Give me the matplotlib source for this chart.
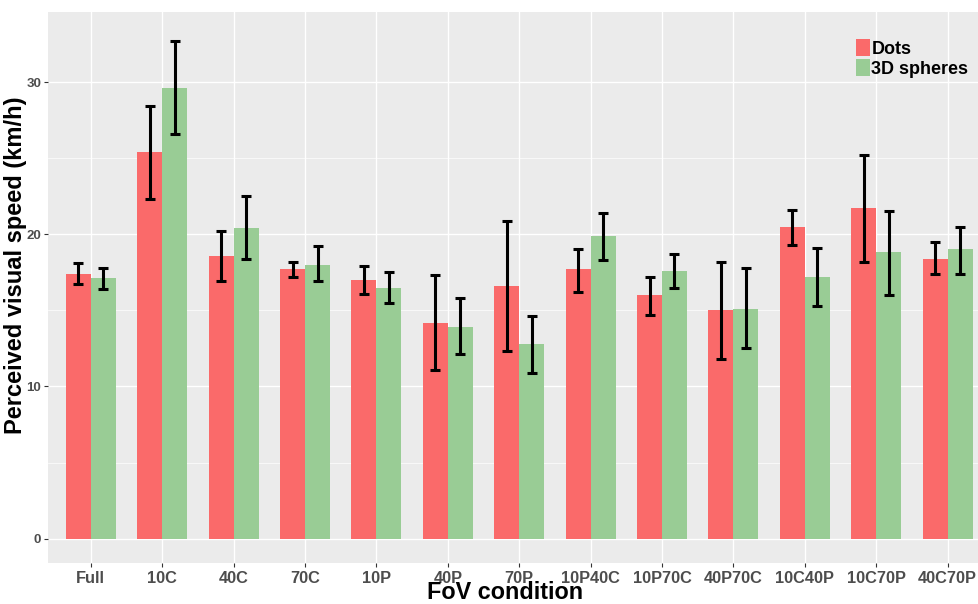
import numpy as np
import matplotlib
matplotlib.use("Agg")
import matplotlib.pyplot as plt
from matplotlib.patches import Patch

# --- DATA ---
conditions = ["Full", "10C", "40C", "70C", "10P", "40P", "70P",
              "10P40C", "10P70C", "40P70C", "10C40P", "10C70P", "40C70P"]

dots_mean = [17.4, 25.4, 18.6, 17.7, 17.0, 14.2, 16.6, 17.7, 16.0, 15.0, 20.5, 21.7, 18.4]
dots_low  = [16.7, 22.3, 16.9, 17.2, 16.1, 11.1, 12.3, 16.2, 14.7, 11.8, 19.3, 18.2, 17.4]
dots_high = [18.1, 28.4, 20.2, 18.2, 17.9, 17.3, 20.9, 19.0, 17.2, 18.2, 21.6, 25.2, 19.5]

sph_mean = [17.1, 29.6, 20.4, 18.0, 16.5, 13.9, 12.8, 19.9, 17.6, 15.1, 17.2, 18.8, 19.0]
sph_low  = [16.4, 26.6, 18.4, 16.9, 15.5, 12.1, 10.9, 18.3, 16.5, 12.5, 15.3, 16.0, 17.4]
sph_high = [17.8, 32.7, 22.5, 19.2, 17.5, 15.8, 14.6, 21.4, 18.7, 17.8, 19.1, 21.5, 20.5]

series_names = ["Dots", "3D spheres"]
yticks = [0, 10, 20, 30]

# --- STYLE ---
red = "#FA6A6A"
green = "#99CC95"
panel_bg = "#EBEBEB"
font = "Liberation Sans"

fig = plt.figure(figsize=(9.79, 6.04), dpi=100)
ax = fig.add_axes([48/979, 41/604, 1 - 48/979, (563 - 12)/604])
ax.set_facecolor(panel_bg)

x = np.arange(len(conditions))
w = 0.35

# grid like ggplot
for yv in [5, 15, 25]:
    ax.axhline(yv, color="white", lw=0.5, zorder=0)
for yv in yticks:
    ax.axhline(yv, color="white", lw=1.0, zorder=0)
for xv in x:
    ax.axvline(xv, color="white", lw=1.0, zorder=0)

d = np.array(dots_mean)
s = np.array(sph_mean)
ax.bar(x - w/2, d, width=w, color=red, zorder=2)
ax.bar(x + w/2, s, width=w, color=green, zorder=2)

err_kw = dict(fmt="none", ecolor="black", elinewidth=2.2, capsize=3.5, capthick=2.2, zorder=3)
ax.errorbar(x - w/2, d, yerr=[d - np.array(dots_low), np.array(dots_high) - d], **err_kw)
ax.errorbar(x + w/2, s, yerr=[s - np.array(sph_low), np.array(sph_high) - s], **err_kw)

ax.set_xlim(-0.6, 12.44)
ax.set_ylim(-1.6, 34.6)
ax.set_xticks(x)
ax.set_xticklabels(conditions, fontsize=11.8, fontweight="bold", color="#4D4D4D", family=font)
ax.set_yticks(yticks)
ax.set_yticklabels([str(v) for v in yticks], fontsize=9.5, fontweight="bold", color="#4D4D4D", family=font)
ax.tick_params(axis="both", length=3, color="#333333", width=0.8)
ax.tick_params(axis="x", pad=3)
ax.tick_params(axis="y", pad=2)
for sp in ax.spines.values():
    sp.set_visible(False)

fig.text(505/979, 0, "FoV condition", ha="center", va="bottom",
         fontsize=16.8, fontweight="bold", family=font)
fig.text(16/979, 1 - 265/604, "Perceived visual speed (km/h)", ha="center", va="center",
         rotation=90, fontsize=17, fontweight="bold", family=font)

handles = [Patch(facecolor=red, edgecolor="none"), Patch(facecolor=green, edgecolor="none")]
leg = ax.legend(handles, series_names, loc="upper left",
                bbox_to_anchor=(856/979, 1 - 39/604), bbox_transform=fig.transFigure,
                frameon=False, borderpad=0, borderaxespad=0, handlelength=0.75,
                handleheight=1.1, handletextpad=0.1, labelspacing=0.05,
                prop=dict(family=font, weight="bold", size=13))

fig.savefig("out.png", dpi=100)
